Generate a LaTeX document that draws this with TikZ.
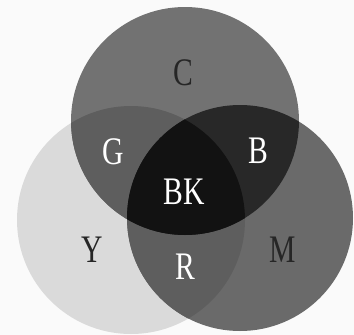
\documentclass[tikz,border=0pt]{standalone}
\usepackage{fontspec}
\newfontfamily\labfont[FakeStretch=0.76]{Liberation Serif}
\definecolor{bgc}{HTML}{FAFAFA}
\definecolor{cc}{HTML}{727272}
\definecolor{yc}{HTML}{DADADA}
\definecolor{mc}{HTML}{6A6A6A}
\definecolor{gc}{HTML}{5E5E5E}
\definecolor{bc}{HTML}{282828}
\definecolor{rc}{HTML}{5E5E5E}
\definecolor{kc}{HTML}{121212}
\begin{document}
\begin{tikzpicture}[x=1pt,y=-1pt,
  lab/.style={font=\labfont\fontsize{39}{39}\selectfont, inner sep=0pt},
  darklab/.style={lab, text=black!85},
  lightlab/.style={lab, text=white}]
\useasboundingbox (0,0) rectangle (354,335);
\fill[bgc] (0,0) rectangle (354,335);
\def\Cc{(185,121) circle (114pt)}
\def\Yc{(131,220) circle (114pt)}
\def\Mc{(240,218) circle (113pt)}
\fill[yc] \Yc;
\fill[mc] \Mc;
\fill[cc] \Cc;
\begin{scope}
  \clip \Yc;
  \fill[rc] \Mc;
  \fill[gc] \Cc;
\end{scope}
\begin{scope}
  \clip \Mc;
  \fill[bc] \Cc;
\end{scope}
\begin{scope}
  \clip \Yc;
  \clip \Mc;
  \fill[kc] \Cc;
\end{scope}
\node[darklab] (c) at (183,73) {C};
\node[lightlab] (g) at (113,152) {G};
\node[lightlab] (b) at (258,151) {B};
\node[lightlab] (bk) at (184,192) {BK};
\node[darklab] (y) at (92,250) {Y};
\node[lightlab] (r) at (185,267) {R};
\node[darklab] (m) at (283,250) {M};
\end{tikzpicture}
\end{document}
